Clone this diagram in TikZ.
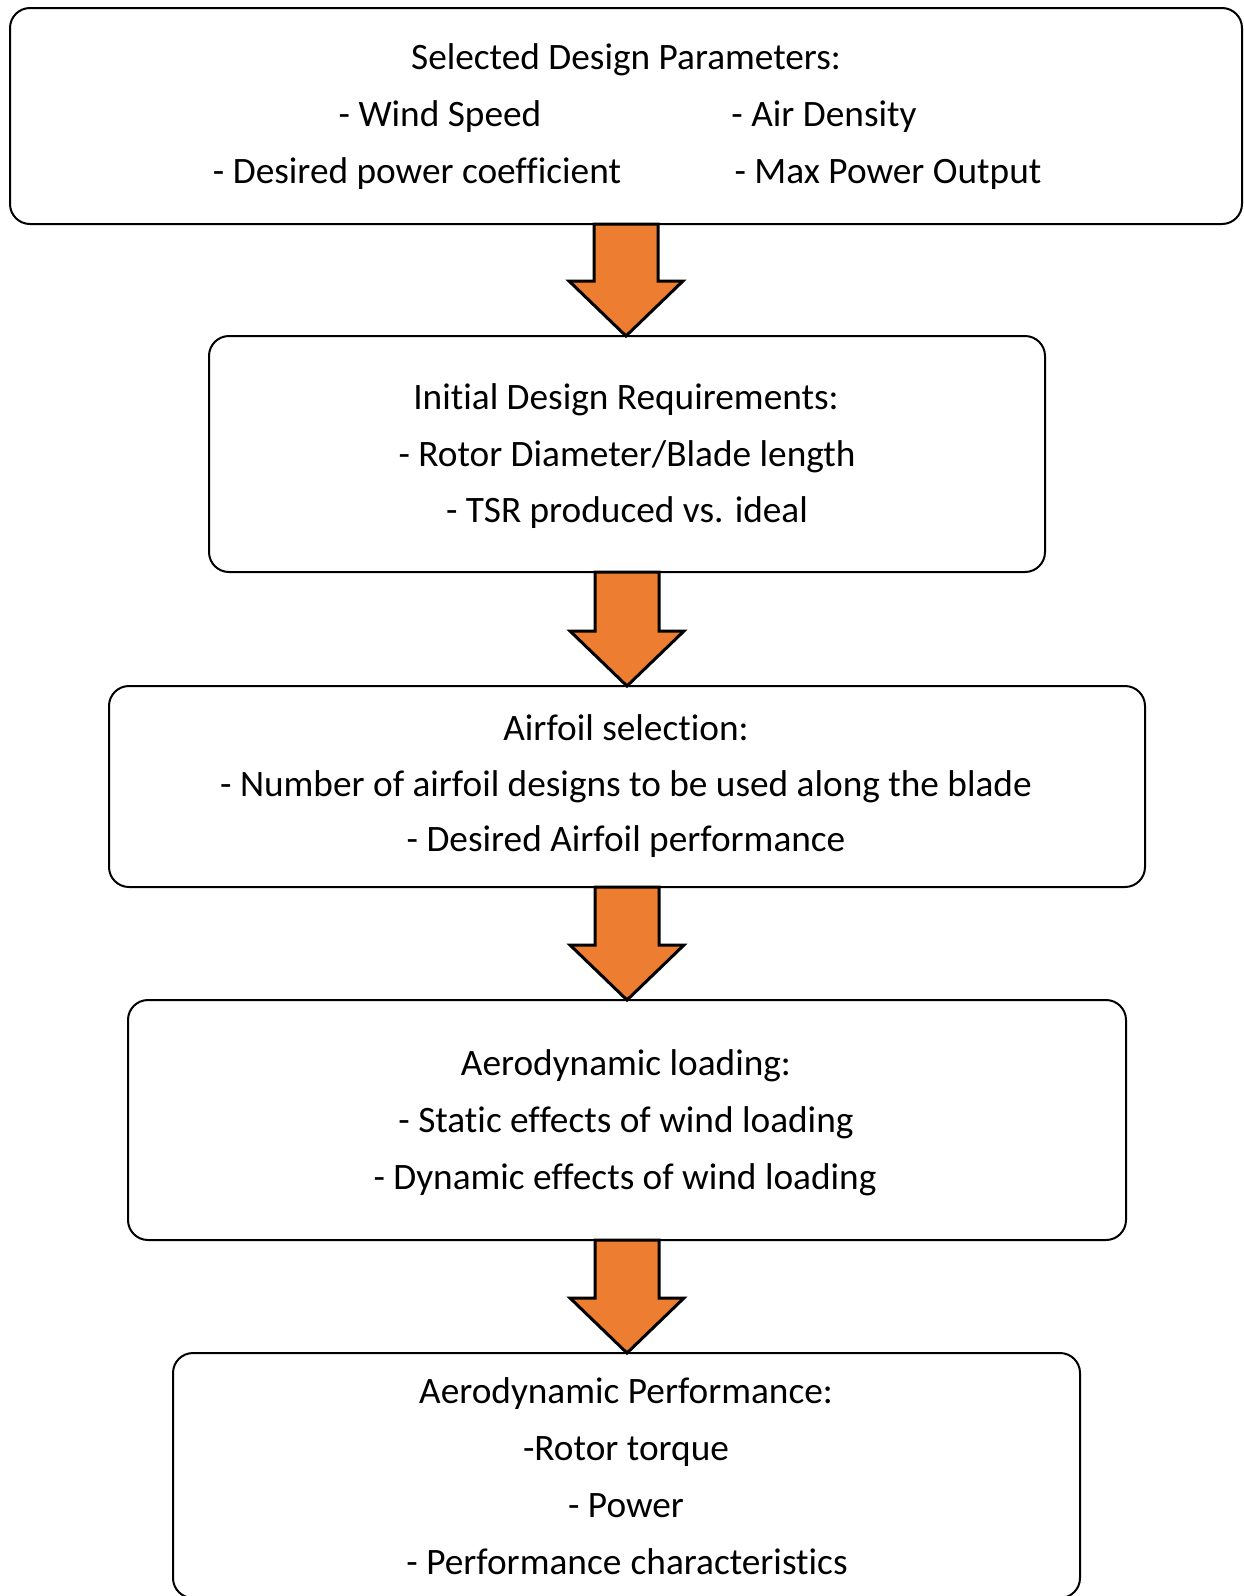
\documentclass[tikz,border=0pt]{standalone}
\usepackage{fontspec}
\setmainfont{Carlito}[Ligatures={NoCommon}]
\usetikzlibrary{calc}
\definecolor{flowOrange}{HTML}{ED7D31}
\tikzset{
  flowbox/.style={draw=black, line width=2pt, rounded corners=20pt, rectangle, inner sep=0pt, outer sep=0pt, fill=white},
  txt/.style={anchor=base, inner sep=0pt, font=\fontsize{37.3}{44}\selectfont, text=black},
  bigarrow/.style={draw=black, fill=flowOrange, line width=3pt, line join=miter}
}
\newcommand\flowarrow[2]{%
  \draw[bigarrow] let \p1=(#1.south), \p2=(#2.north) in
    (\x1-32pt,\y1) -- (\x1+32pt,\y1) -- (\x1+32pt,\y2+55pt) -- (\x1+57pt,\y2+55pt)
    -- (\x1,\y2) -- (\x1-57pt,\y2+55pt) -- (\x1-32pt,\y2+55pt) -- cycle;}
\begin{document}
\begin{tikzpicture}[x=1pt,y=-1pt]
\useasboundingbox (0,0) rectangle (1244,1596);
\clip (0,0) rectangle (1244,1596);
% boxes
\node[flowbox, minimum width=1232pt, minimum height=216pt] (b1) at (626,116) {};
\node[flowbox, minimum width=836pt, minimum height=236pt] (b2) at (627,454) {};
\node[flowbox, minimum width=1036pt, minimum height=201pt] (b3) at (627,786.5) {};
\node[flowbox, minimum width=998pt, minimum height=240pt] (b4) at (627,1120) {};
\node[flowbox, minimum width=907pt, minimum height=245pt] (b5) at (626.5,1475.5) {};
% arrows
\flowarrow{b1}{b2}
\flowarrow{b2}{b3}
\flowarrow{b3}{b4}
\flowarrow{b4}{b5}
% box 1 text
\node[txt] (t11) at (626,69) {Selected Design Parameters:};
\node[txt] (t12) at (440,126) {- Wind Speed};
\node[txt] (t13) at (824,126) {- Air Density};
\node[txt] (t14) at (417,183) {- Desired power coefficient};
\node[txt] (t15) at (888,183) {- Max Power Output};
% box 2 text
\node[txt] (t21) at (626,409) {Initial Design Requirements:};
\node[txt] (t22) at (627,466) {- Rotor Diameter/Blade length};
\node[txt] (t23) at (627,522) {- TSR produced vs. ideal};
% box 3 text
\node[txt] (t31) at (626,740) {Airfoil selection:};
\node[txt] (t32) at (626,796) {- Number of airfoil designs to be used along the blade};
\node[txt] (t33) at (626,851) {- Desired Airfoil performance};
% box 4 text
\node[txt] (t41) at (626,1075) {Aerodynamic loading:};
\node[txt] (t42) at (626,1132) {- Static effects of wind loading};
\node[txt] (t43) at (625,1189) {- Dynamic effects of wind loading};
% box 5 text
\node[txt] (t51) at (626,1403) {Aerodynamic Performance:};
\node[txt] (t52) at (626,1460) {-Rotor torque};
\node[txt] (t53) at (626,1517) {- Power};
\node[txt] (t54) at (627,1574) {- Performance\hspace{0.25em}characteristics};
\end{tikzpicture}
\end{document}
